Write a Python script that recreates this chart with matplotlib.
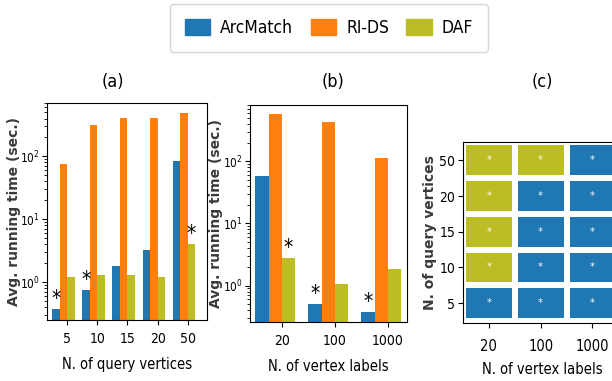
import matplotlib
matplotlib.use('Agg')
import matplotlib.pyplot as plt
from matplotlib.colors import ListedColormap
from matplotlib.patches import Patch
import numpy as np

# ---- data ----
methods = ['ArcMatch', 'RI-DS', 'DAF']
colors = ['#1f77b4', '#ff7f0e', '#bcbd22']

query_vertices = ['5', '10', '15', '20', '50']
a_arcmatch = [0.38, 0.75, 1.8, 3.3, 83]
a_rids = [75, 313, 401, 415, 493]
a_daf = [1.22, 1.29, 1.28, 1.22, 4.05]
a_star = [0, 0, None, None, 2]   # index of best method marked with *

vertex_labels = ['20', '100', '1000']
b_arcmatch = [58, 0.51, 0.37]
b_rids = [566, 421, 115]
b_daf = [2.8, 1.06, 1.86]
b_star = [2, 0, 0]

# winner per (query vertices row, vertex labels column): 0 = ArcMatch, 1 = DAF
c_rows = ['5', '10', '15', '20', '50']
c_winner = [[0, 0, 0],
            [1, 0, 0],
            [1, 0, 0],
            [1, 0, 0],
            [1, 1, 0]]

plt.rcParams['font.family'] = ['DejaVu Sans']
plt.rcParams['font.stretch'] = 'condensed'
plt.rcParams['mathtext.fontset'] = 'custom'
plt.rcParams['mathtext.rm'] = 'DejaVu Sans:stretch=condensed'
plt.rcParams['mathtext.it'] = 'DejaVu Sans:stretch=condensed:italic'
plt.rcParams['mathtext.bf'] = 'DejaVu Sans:stretch=condensed:bold'

fig = plt.figure(figsize=(6.12, 3.81), dpi=100)
ax_a = fig.add_axes([0.0768, 0.160, 0.261, 0.570])
ax_b = fig.add_axes([0.4085, 0.155, 0.2565, 0.569])
ax_c = fig.add_axes([0.7565, 0.152, 0.258, 0.475])

ylab_font = dict(family='DejaVu Sans', fontstretch='normal', fontweight='bold',
                 fontsize=10, color='#3a3a3a')


def grouped(ax, cats, series, stars, w=0.25):
    x = np.arange(len(cats))
    offs = [-2 * w, -w, 0]
    for vals, col, off in zip(series, colors, offs):
        ax.bar(x + off, vals, w, align='edge', color=col)
    for i, s in enumerate(stars):
        if s is None:
            continue
        ax.text(x[i] + offs[s] + w / 2, series[s][i], '*', ha='center', va='bottom',
                fontsize=15, color='black')
    ax.set_yscale('log')
    ax.set_xticks(x)
    ax.set_xticklabels(cats)
    ax.tick_params(axis='x', labelsize=10, pad=5)
    ax.tick_params(axis='y', labelsize=8.5, pad=2)
    ax.set_ylabel('Avg. running time (sec.)', **ylab_font)


grouped(ax_a, query_vertices, [a_arcmatch, a_rids, a_daf], a_star)
ax_a.set_xlim(-0.67, 4.63)
ax_a.set_ylim(0.25, 710)
ax_a.set_xlabel('N. of query vertices', fontsize=10.5, labelpad=8)
ax_a.yaxis.set_label_coords(-0.165, 0.5)

grouped(ax_b, vertex_labels, [b_arcmatch, b_rids, b_daf], b_star)
ax_b.set_xlim(-0.6, 2.36)
ax_b.set_ylim(0.26, 800)
ax_b.set_xlabel('N. of vertex labels', fontsize=10.5, labelpad=8)
ax_b.yaxis.set_label_coords(-0.17, 0.5)

# heatmap (c)
cmap = ListedColormap([colors[0], colors[2]])
ax_c.pcolormesh(np.arange(len(vertex_labels) + 1) - 0.5, np.arange(len(c_rows) + 1) - 0.5,
                np.array(c_winner), cmap=cmap, vmin=0, vmax=1,
                edgecolors='white', linewidth=3)
for r in range(len(c_rows)):
    for c in range(len(vertex_labels)):
        ax_c.text(c, r, '*', ha='center', va='center', color='white', fontsize=8)
ax_c.set_xticks(range(len(vertex_labels)))
ax_c.set_xticklabels(vertex_labels)
ax_c.set_yticks(range(len(c_rows)))
ax_c.set_yticklabels(c_rows)
ax_c.set_xlim(-0.5, 2.55)
ax_c.set_ylim(-0.56, 4.51)
ax_c.tick_params(axis='x', labelsize=10.5, pad=8)
ax_c.tick_params(axis='y', labelsize=10, pad=2)
ax_c.set_xlabel('N. of vertex labels', fontsize=10.5, labelpad=6)
ax_c.set_ylabel('N. of query vertices', family='DejaVu Sans', fontstretch='normal',
                fontweight='bold', fontsize=10, color='#3a3a3a')
ax_c.yaxis.set_label_coords(-0.165, 0.5)

for t, xc in [('(a)', 113), ('(b)', 333), ('(c)', 542)]:
    fig.text(xc / 612, 1 - 82 / 381, t, ha='center', va='center', fontsize=13)

handles = [Patch(color=c, label=m) for c, m in zip(colors, methods)]
fig.legend(handles=handles, loc='center', bbox_to_anchor=(329 / 612, 1 - 28 / 381),
           ncol=3, fontsize=12.5, handlelength=1.45, handleheight=1.05,
           handletextpad=0.6, columnspacing=1.0, borderpad=0.85, frameon=True)

fig.savefig('out.png', dpi=100)
